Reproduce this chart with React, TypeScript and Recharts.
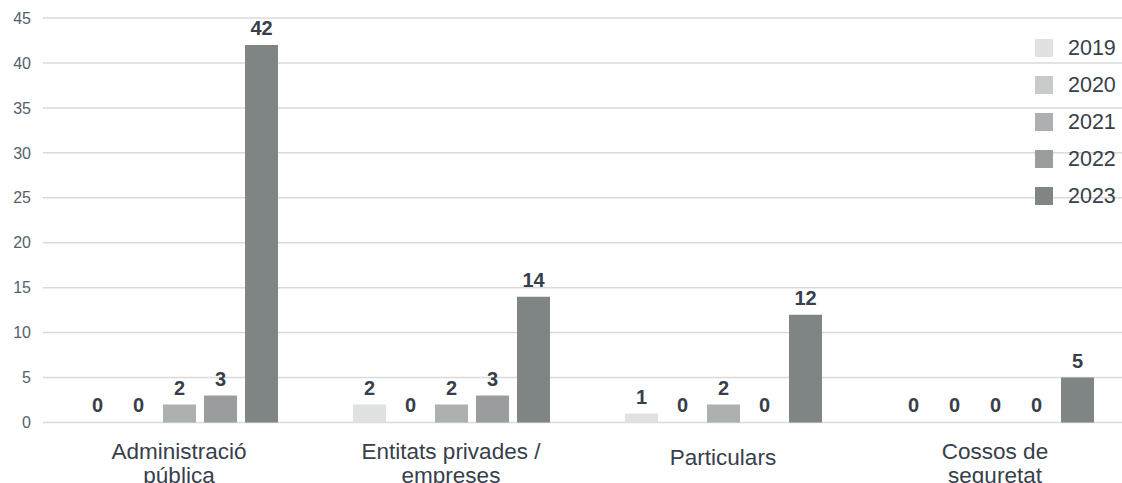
import React from 'react';
import { BarChart, Bar, XAxis, YAxis, CartesianGrid, Legend, LabelList } from 'recharts';

// Reports by type of entity, per year
const categories = ['Administració pública', 'Entitats privades / empreses', 'Particulars', 'Cossos de seguretat'];
const categoryLines = [
  ['Administració', 'pública'],
  ['Entitats privades /', 'empreses'],
  ['Particulars'],
  ['Cossos de', 'seguretat'],
];
const years = ['2019', '2020', '2021', '2022', '2023'];
const values2019 = [0, 2, 1, 0];
const values2020 = [0, 0, 0, 0];
const values2021 = [2, 2, 2, 0];
const values2022 = [3, 3, 0, 0];
const values2023 = [42, 14, 12, 5];
const yTicks = [0, 5, 10, 15, 20, 25, 30, 35, 40, 45];

const seriesValues = [values2019, values2020, values2021, values2022, values2023];
const yearColors = ['#e0e1e2', '#c8cbcc', '#adb0b0', '#999d9d', '#7f8584'];

const data = categories.map((category, i) => {
  const row: Record<string, string | number> = { category };
  years.forEach((y, s) => {
    row[y] = seriesValues[s][i];
  });
  return row;
});

const FONT = '"Liberation Sans", Arial, Helvetica, sans-serif';
const TEXT = '#37404a';

const CategoryTick = (props: any) => {
  const { x, y, payload } = props;
  const lines = categoryLines[payload.index] || [payload.value];
  const first = lines.length === 1 ? y + 34.5 : y + 28.5;
  return (
    <g>
      {lines.map((line: string, k: number) => (
        <text
          key={k}
          x={x}
          y={first + k * 24}
          textAnchor="middle"
          fill={TEXT}
          fontSize={22.5}
          fontFamily={FONT}
        >
          {line}
        </text>
      ))}
    </g>
  );
};

const YearLegend = (props: any) => {
  const { payload } = props;
  return (
    <div style={{ fontFamily: FONT }}>
      {(payload || []).map((entry: any) => (
        <div
          key={entry.value}
          style={{ display: 'flex', alignItems: 'center', height: 36.8 }}
        >
          <span
            style={{ display: 'inline-block', width: 18, height: 18, background: entry.color, marginRight: 15 }}
          />
          <span style={{ fontSize: 21.5, color: TEXT, lineHeight: '20px' }}>{entry.value}</span>
        </div>
      ))}
    </div>
  );
};

export default function App() {
  return (
    <div style={{ position: 'absolute', left: 0, top: 0, width: 1122, height: 483, overflow: 'hidden', background: '#fff' }}>
      <BarChart
        width={1140}
        height={483}
        data={data}
        margin={{ top: 18, right: 9, bottom: 0, left: 0 }}
        barSize={33}
        barGap={8}
      >
        <CartesianGrid vertical={false} stroke="#dadada" strokeWidth={1.5} />
        <XAxis
          dataKey="category"
          axisLine={false}
          tickLine={false}
          height={60.5}
          interval={0}
          tick={<CategoryTick />}
        />
        <YAxis
          domain={[0, 45]}
          ticks={yTicks}
          axisLine={false}
          tickLine={false}
          width={43}
          tickMargin={6}
          tick={{ fill: '#56606a', fontSize: 16, fontFamily: FONT }}
        />
        <Legend
          layout="horizontal"
          verticalAlign="middle"
          align="center"
          content={<YearLegend />}
          wrapperStyle={{ top: 30, left: 1035, width: 90, height: 190 }}
        />
        {years.map((y, s) => (
          <Bar key={y} dataKey={y} fill={yearColors[s]} minPointSize={0.01} isAnimationActive={false}>
            <LabelList
              dataKey={y}
              position="top"
              offset={10}
              fill={TEXT}
              fontSize={20}
              fontWeight="bold"
              fontFamily={FONT}
            />
          </Bar>
        ))}
      </BarChart>
    </div>
  );
}
